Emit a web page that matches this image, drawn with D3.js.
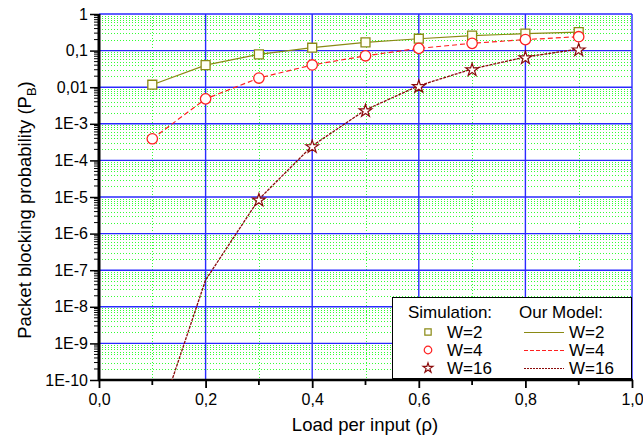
<!DOCTYPE html>
<html><head><meta charset="utf-8">
<script src="https://cdn.jsdelivr.net/npm/d3@7"></script>
<style>
body{margin:0;background:#fff;}
text{font-family:"Liberation Sans",Arial,sans-serif;fill:#000;}
</style></head>
<body><svg id="c" width="643" height="439"></svg>
<script>
const loads = [0.1,0.2,0.3,0.4,0.5,0.6,0.7,0.8,0.9];
const sim2 = [0.0117,0.040,0.079,0.12,0.168,0.211,0.256,0.29,0.32];
const model2 = [0.0117,0.040,0.079,0.12,0.168,0.211,0.256,0.29,0.32];
const sim4 = [3.9e-4,4.8e-3,0.0178,0.0405,0.072,0.115,0.158,0.2,0.24];
const model4 = [3.9e-4,4.8e-3,0.0178,0.0405,0.072,0.115,0.158,0.2,0.24];
const loads16sim = [0.3,0.4,0.5,0.6,0.7,0.8,0.9];
const sim16 = [8.7e-6,2.5e-4,2.4e-3,0.011,0.0315,0.067,0.11];
const model16 = [2.5e-12,5.4e-8,8.7e-6,2.5e-4,2.4e-3,0.011,0.0315,0.067,0.11];
const xTicks = [0,0.2,0.4,0.6,0.8,1.0];
const yTicks = [1,0.1,0.01,1e-3,1e-4,1e-5,1e-6,1e-7,1e-8,1e-9,1e-10];
const yTickLabels = ["1","0,1","0,01","1E-3","1E-4","1E-5","1E-6","1E-7","1E-8","1E-9","1E-10"];

const svg = d3.select("#c");
const L=99,T=14,R=632,B=380;
const x = d3.scaleLinear().domain([0,1]).range([L,R]);
const y = d3.scaleLog().domain([1e-10,1]).range([B,T]);

svg.append("defs").append("clipPath").attr("id","clip")
  .append("rect").attr("x",L).attr("y",T).attr("width",R-L).attr("height",B-T);

// minor grid
const g = svg.append("g");
const minorY = [];
for (let e=-10;e<0;e++) for (let m=2;m<=9;m++) minorY.push(m*Math.pow(10,e));
g.selectAll(".my").data(minorY).enter().append("line")
  .attr("x1",L).attr("x2",R).attr("y1",d=>Math.round(y(d))+0.5).attr("y2",d=>Math.round(y(d))+0.5)
  .attr("stroke","#33ff33").attr("stroke-width",1).attr("stroke-dasharray","1,2");
const minorX = [0.1,0.3,0.5,0.7,0.9];
g.selectAll(".mx").data(minorX).enter().append("line")
  .attr("y1",T).attr("y2",B).attr("x1",d=>Math.round(x(d))+0.5).attr("x2",d=>Math.round(x(d))+0.5)
  .attr("stroke","#33ff33").attr("stroke-width",1).attr("stroke-dasharray","1,2");
// major grid
g.selectAll(".My").data(yTicks).enter().append("line")
  .attr("x1",L).attr("x2",R).attr("y1",d=>y(d)).attr("y2",d=>y(d))
  .attr("stroke","#2a2aff").attr("stroke-width",1.4);
g.selectAll(".Mx").data(xTicks).enter().append("line")
  .attr("y1",T).attr("y2",B).attr("x1",d=>x(d)).attr("x2",d=>x(d))
  .attr("stroke","#2a2aff").attr("stroke-width",1.4);

// axes
const yAxis = d3.axisLeft(y).tickValues(yTicks).tickFormat((d,i)=>yTickLabels[i]).tickSize(9).tickPadding(2);
const ya = svg.append("g").attr("transform",`translate(${L},0)`).call(yAxis);
ya.selectAll(".tick line").attr("stroke","#000").attr("stroke-width",1.5);
ya.append("g").selectAll("line").data(minorY).enter().append("line")
  .attr("x1",-5).attr("x2",0).attr("y1",d=>y(d)).attr("y2",d=>y(d)).attr("stroke","#000").attr("stroke-width",1);
const xAxis = d3.axisBottom(x).tickValues(xTicks).tickFormat(d=>d3.format(".1f")(d).replace(".",",")).tickSize(8).tickPadding(6);
const xa = svg.append("g").attr("transform",`translate(0,${B})`).call(xAxis);
xa.selectAll(".tick line").attr("stroke","#000").attr("stroke-width",1.8);
xa.append("g").selectAll("line").data(minorX).enter().append("line")
  .attr("x1",d=>x(d)).attr("x2",d=>x(d)).attr("y1",0).attr("y2",5).attr("stroke","#000").attr("stroke-width",1.8);
[ya,xa].forEach(a=>{a.select(".domain").remove(); a.selectAll("text").style("font-size","16px").attr("fill","#000");});
svg.append("line").attr("x1",L).attr("x2",L).attr("y1",T).attr("y2",B+1).attr("stroke","#000").attr("stroke-width",3);
svg.append("line").attr("x1",L-1).attr("x2",R+1).attr("y1",B).attr("y2",B).attr("stroke","#000").attr("stroke-width",2.5);

// titles
svg.append("text").attr("x",365).attr("y",431).attr("text-anchor","middle").style("font-size","18.5px").text("Load per input (ρ)");
const yt = svg.append("text").attr("transform","translate(31,210) rotate(-90)").attr("text-anchor","middle").style("font-size","18.5px");
yt.append("tspan").text("Packet blocking probability (P");
yt.append("tspan").attr("dy",5).style("font-size","13px").text("B");
yt.append("tspan").attr("dy",-5).text(")");

// lines
const plot = svg.append("g").attr("clip-path","url(#clip)");
const line = d3.line().x(d=>x(d[0])).y(d=>y(d[1]));
const c2="#8a8a14", c4="#ff2020", c16="#8b0a0a";
plot.append("path").datum(loads.map((l,i)=>[l,model2[i]])).attr("d",line).attr("fill","none").attr("stroke",c2).attr("stroke-width",1.2);
plot.append("path").datum(loads.map((l,i)=>[l,model4[i]])).attr("d",line).attr("fill","none").attr("stroke",c4).attr("stroke-width",1.2).attr("stroke-dasharray","5,3");
plot.append("path").datum(loads.map((l,i)=>[l,model16[i]])).attr("d",line).attr("fill","none").attr("stroke",c16).attr("stroke-width",1.3).attr("stroke-dasharray","3,1");

// markers
const sq = d3.symbol().type(d3.symbolSquare).size(80);
const ci = d3.symbol().type(d3.symbolCircle).size(85);
const st = d3.symbol().type(d3.symbolStar).size(50);
svg.append("g").selectAll("path").data(loads.map((l,i)=>[l,sim2[i]])).enter().append("path")
  .attr("d",sq).attr("transform",d=>`translate(${x(d[0])},${y(d[1])})`).attr("fill","#fffff4").attr("stroke",c2).attr("stroke-width",1.3);
svg.append("g").selectAll("path").data(loads.map((l,i)=>[l,sim4[i]])).enter().append("path")
  .attr("d",ci).attr("transform",d=>`translate(${x(d[0])},${y(d[1])})`).attr("fill","#fff").attr("stroke",c4).attr("stroke-width",1.3);
svg.append("g").selectAll("path").data(loads16sim.map((l,i)=>[l,sim16[i]])).enter().append("path")
  .attr("d",st).attr("transform",d=>`translate(${x(d[0])},${y(d[1])+1})`).attr("fill","#fff").attr("stroke",c16).attr("stroke-width",1.2);

// legend
const lg = svg.append("g");
lg.append("rect").attr("x",392.5).attr("y",297.5).attr("width",239).attr("height",81).attr("fill","#fff").attr("stroke","#000").attr("stroke-width",1);
const fs="17px";
lg.append("text").attr("x",408).attr("y",318).style("font-size",fs).text("Simulation:");
lg.append("text").attr("x",519).attr("y",318).style("font-size",fs).text("Our Model:");
const rows=[{lab:"W=2",sym:d3.symbolSquare,sz:40,c:c2,dash:null},{lab:"W=4",sym:d3.symbolCircle,sz:45,c:c4,dash:"4,2"},{lab:"W=16",sym:d3.symbolStar,sz:30,c:c16,dash:"2,1"}];
rows.forEach((r,i)=>{
  const yy=332+i*18;
  lg.append("path").attr("d",d3.symbol().type(r.sym).size(r.sz)()).attr("transform",`translate(428,${yy})`).attr("fill","#fff").attr("stroke",r.c).attr("stroke-width",1.2);
  lg.append("text").attr("x",447).attr("y",yy+6).style("font-size",fs).text(r.lab);
  const ln=lg.append("line").attr("x1",524).attr("x2",564).attr("y1",yy+0.5).attr("y2",yy+0.5).attr("stroke",r.c).attr("stroke-width",1.2);
  if(r.dash) ln.attr("stroke-dasharray",r.dash);
  lg.append("text").attr("x",569).attr("y",yy+6).style("font-size",fs).text(r.lab);
});
</script></body></html>
